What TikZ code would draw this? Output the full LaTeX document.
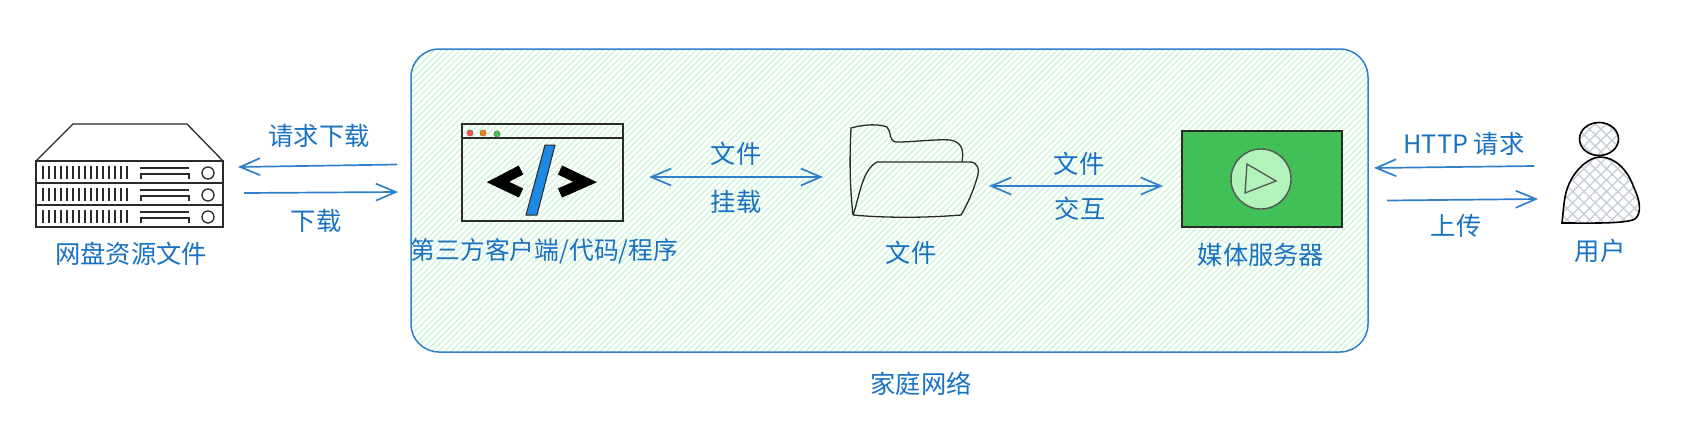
\documentclass[tikz,border=0pt]{standalone}
\usepackage{fontspec}
\setmainfont{Noto Sans CJK SC}
\usetikzlibrary{positioning,arrows.meta,patterns.meta}
\definecolor{lineblue}{HTML}{1971C2}
\definecolor{flowblue}{HTML}{2F7FCB}
\definecolor{slashblue}{HTML}{1E88E5}
\definecolor{hatchgreen}{HTML}{D0F5DA}
\definecolor{inkgray}{HTML}{2A2A2A}
\definecolor{mediagreen}{HTML}{40C057}
\definecolor{playgreen}{HTML}{B2F2BB}
\definecolor{meshgray}{HTML}{C9CFD6}
\tikzset{
    lbl/.style={text=lineblue, font=\fontsize{25.3}{30}\selectfont, inner sep=0pt},
    iconbox/.style={rectangle, inner sep=0pt, outer sep=0pt},
    ink/.style={draw=inkgray, line width=1.3pt},
    tick/.style={draw=inkgray, line width=1.1pt},
    flow/.style={draw=flowblue, line width=1.7pt, -{Straight Barb[length=20pt,width=17pt]}},
    flowboth/.style={draw=flowblue, line width=1.7pt, {Straight Barb[length=20pt,width=17pt]}-{Straight Barb[length=20pt,width=17pt]}}
}
\begin{document}
\begin{tikzpicture}[x=1pt, y=-1pt]
    \useasboundingbox (0,0) rectangle (1697,429);

    % home network
    \node[iconbox, draw=flowblue, line width=1.5pt, rounded corners=28pt, minimum width=957pt, minimum height=303pt,
        pattern={Lines[angle=45,distance=4.4pt,line width=1.5pt]}, pattern color=hatchgreen] (net) at (889.5,200.5) {};
    \node[lbl] (netlbl) at (921,384) {家庭网络};

    % server
    \node[iconbox, ink, minimum width=187pt, minimum height=66pt] (server) at (129.5,194) {};
    \draw[ink] (server.north west) -- (73,124) -- (187,124) -- (server.north east);
    \foreach \r in {161,183,205} {
        \draw[ink] (36,\r) -- (223,\r);
        \foreach \i in {0,...,14}
            \draw[tick] ({43+6*\i},{\r+5}) -- ++(0,13);
        \draw[tick] (140,{\r+7}) -- (189,{\r+7});
        \draw[tick] (141,{\r+18}) -- (141,{\r+13}) -- (189,{\r+13}) -- (189,{\r+18});
        \draw[ink] (208,{\r+12}) circle (6);
    }
    \node[lbl] (serverlbl) at (131,254) {网盘资源文件};

    % code window
    \node[iconbox, ink, minimum width=161pt, minimum height=97pt] (code) at (542.5,172.5) {};
    \draw[ink] (462,138) -- (623,138);
    \fill[red!70!white, draw=inkgray!70] (470,133) circle (3.2);
    \fill[orange, draw=inkgray!70] (483,133) circle (3.2);
    \fill[mediagreen, draw=inkgray!70] (497,134) circle (3.2);
    \draw[black, line width=10pt] (521,170) -- (498,182) -- (521,193);
    \draw[black, line width=10pt] (560,170) -- (585,182) -- (560,193);
    \draw[inkgray, line width=1pt, fill=slashblue] (545,145) -- (555,145) -- (537,215) -- (526,215) -- cycle;
    \node[lbl, font=\fontsize{24.8}{30}\selectfont] (codelbl) at (544.5,251) {第三方客户端/代码/程序};

    % folder
    \node[iconbox, minimum width=128pt, minimum height=92pt] (folder) at (914,171) {};
    \draw[ink] (853,215) .. controls (849,180) and (850,150) .. (851,128)
        .. controls (865,124) and (880,124) .. (887,127)
        .. controls (892,132) and (888,142) .. (897,142)
        .. controls (915,142) and (935,139) .. (950,140)
        .. controls (962,142) and (964,150) .. (962,162);
    \draw[ink] (853,215) .. controls (860,195) and (862,170) .. (877,162)
        -- (970,162) .. controls (978,162) and (980,170) .. (977,178)
        .. controls (973,192) and (967,205) .. (961,215)
        .. controls (925,218) and (885,218) .. (853,215);
    \node[lbl] (folderlbl) at (911,253) {文件};

    % media server
    \node[iconbox, draw=inkgray, line width=1.6pt, fill=mediagreen, minimum width=160pt, minimum height=96pt] (media) at (1262,179) {};
    \draw[inkgray!80, line width=1.4pt, fill=playgreen] (1261,179) circle (30);
    \draw[inkgray!80, line width=1.3pt] (1247,164) -- (1276,181) -- (1245,193) -- cycle;
    \node[lbl] (medialbl) at (1261,255) {媒体服务器};

    % user
    \node[iconbox, minimum width=78pt, minimum height=100pt] (user) at (1601,173) {};
    \draw[black, line width=1.6pt, pattern={Hatch[angle=45,distance=8pt,line width=1.4pt]}, pattern color=meshgray] (1562,223) .. controls (1564,205) and (1564,195) .. (1569,184)
        .. controls (1576,168) and (1590,157) .. (1600,157)
        .. controls (1615,157) and (1628,170) .. (1634,188)
        .. controls (1640,200) and (1642,213) .. (1635,219)
        .. controls (1625,224) and (1590,223) .. (1562,223) -- cycle;
    \draw[black, line width=1.6pt, pattern={Hatch[angle=45,distance=8pt,line width=1.4pt]}, pattern color=meshgray] (1599,139) ellipse (19.5 and 16.5);
    \node[lbl] (userlbl) at (1600,251) {用户};

    % connectors
    \draw[flow] ([xshift=-14pt,yshift=36pt]net.west) -- ([xshift=15pt,yshift=27pt]server.east);
    \draw[flow] ([xshift=21pt,yshift=1pt]server.east) -- ([xshift=-13pt,yshift=8.5pt]net.west);
    \draw[flowboth] ([xshift=26pt,yshift=-4.5pt]code.east) -- ([xshift=-27pt,yshift=-6pt]folder.west);
    \draw[flowboth] ([xshift=11pt,yshift=-15pt]folder.east) -- ([xshift=-19pt,yshift=-7pt]media.west);
    \draw[flow] ([xshift=-28pt,yshift=7pt]user.west) -- ([xshift=6pt,yshift=32.5pt]net.east);
    \draw[flow] ([xshift=19pt]net.east) -- ([xshift=-24pt,yshift=-26pt]user.west);

    \node[lbl] (reqlbl) at (319,136) {请求下载};
    \node[lbl] (downlbl) at (316,221) {下载};
    \node[lbl] (mountfile) at (736,154) {文件};
    \node[lbl] (mountlbl) at (736,202) {挂载};
    \node[lbl] (xchgfile) at (1079,164) {文件};
    \node[lbl] (xchglbl) at (1080,209) {交互};
    \node[lbl] (httplbl) at (1464,144) {HTTP 请求};
    \node[lbl] (uplbl) at (1456,226) {上传};
\end{tikzpicture}
\end{document}
